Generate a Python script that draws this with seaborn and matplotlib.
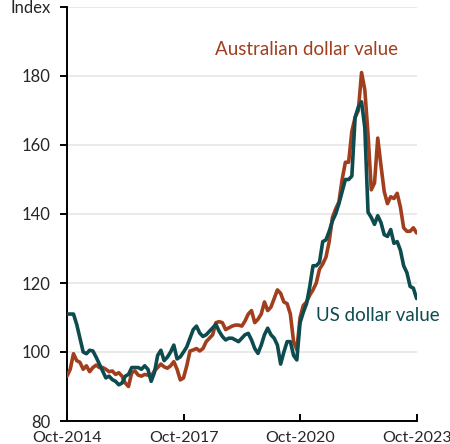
import numpy as np
import pandas as pd
import matplotlib
matplotlib.use("Agg")
import matplotlib.pyplot as plt
import seaborn as sns

# Monthly index values, Oct-2014 .. Oct-2023
aud_value = [93, 95, 99.5, 97.5, 97, 95, 96, 94.3, 95.5, 96.2, 95.5, 95.5, 95, 94.3, 94.5, 93.5,
             94, 93, 91, 90, 94, 94.5, 93.3, 93, 93.5, 93.3, 93, 94.5, 95.5, 96.5, 95.7, 95.3,
             96, 97.2, 95, 91.9, 92.5, 96, 100.3, 100.6, 101, 100.3, 101, 103, 104, 105, 108.5,
             108.8, 108.5, 106.5, 107, 107.5, 107.8, 107.8, 107.5, 109, 111, 112, 108.5, 109.5,
             111, 114.5, 112, 113, 115.5, 118, 117, 114.5, 114, 111, 103, 100.6, 110, 113.5,
             114.5, 116.5, 118, 120, 124, 125.5, 127.5, 132, 139, 141.5, 143.5, 150, 155, 155,
             164, 168, 170, 181, 176, 163, 147, 149, 162, 154, 146.5, 143, 145, 144.5, 146, 142,
             136, 135, 135, 136, 134.5]
usd_value = [111, 111, 111, 108, 104, 100, 99.5, 100.5, 100.3, 98.5, 96.5, 94.5, 92.5, 93, 92,
             91.5, 90.5, 91, 93, 93.5, 95.5, 95.5, 95.5, 95, 96, 95, 91.5, 94, 99, 100.5, 97.5,
             98.5, 100, 102, 98, 98.6, 100, 101.5, 104, 106.5, 107.5, 105.5, 104.5, 105, 106, 107,
             108, 106, 104.5, 103.5, 104, 104, 103.5, 103, 104, 105, 105.4, 103.5, 101, 99.6, 102,
             105, 106.9, 105, 104, 102, 96.5, 100, 103, 103, 99, 97.7, 108.5, 111.5, 114, 119, 125,
             125, 126, 132, 132.5, 135, 138, 140, 143, 146.5, 150, 150, 151, 168, 171, 172.5, 165,
             140.5, 139, 137, 139.5, 137.5, 134, 133.5, 135.5, 131.5, 132, 129.5, 125, 123, 119,
             118.5, 115.5]
month_index = list(range(len(aud_value)))
x_tick_pos = [0, 36, 72, 108]
x_tick_labels = ["Oct-2014", "Oct-2017", "Oct-2020", "Oct-2023"]
y_ticks = [80, 100, 120, 140, 160, 180, 200]
y_tick_labels = ["80", "100", "120", "140", "160", "180", "Index"]
series_labels = ["Australian dollar value", "US dollar value"]

AUD_C = "#A13E1E"
USD_C = "#0D4B4E"

sns.set_theme(style="white")
plt.rcParams["font.family"] = ["Lato", "DejaVu Sans"]

df = pd.DataFrame({"month": month_index * 2,
                   "value": aud_value + usd_value,
                   "series": [series_labels[0]] * len(aud_value) + [series_labels[1]] * len(usd_value)})

fig = plt.figure(figsize=(4.5, 4.44), dpi=100)
ax = fig.add_axes([67 / 450, 1 - 421 / 444, (416.6 - 67) / 450, (421 - 7) / 444])

sns.lineplot(data=df, x="month", y="value", hue="series",
             palette={series_labels[0]: AUD_C, series_labels[1]: USD_C},
             linewidth=2.6, legend=False, ax=ax, zorder=3)

ax.set_xlim(0, 108)
ax.set_ylim(80, 200)
ax.set_yticks(y_ticks)
ax.set_yticklabels(y_tick_labels)
ax.set_xticks(x_tick_pos)
ax.set_xticklabels(x_tick_labels)
ax.set_xlabel("")
ax.set_ylabel("")

for y in y_ticks[1:]:
    ax.axhline(y, color="#E6E6E6", linewidth=1.2, zorder=1)

for s in ["top", "right"]:
    ax.spines[s].set_visible(False)
for s in ["left", "bottom"]:
    ax.spines[s].set_color("black")
    ax.spines[s].set_linewidth(1.4)

ax.tick_params(axis="y", direction="out", length=5, width=1.4, color="black",
               labelsize=12, pad=7, left=True)
ax.tick_params(axis="x", direction="in", length=5, width=1.4, color="black",
               labelsize=11.5, pad=7, bottom=True)

ax.text(0.685, 0.884, series_labels[0], transform=ax.transAxes, color=AUD_C,
        fontsize=13.5, ha="center", va="baseline")
ax.text(0.888, 0.2415, series_labels[1], transform=ax.transAxes, color=USD_C,
        fontsize=13.5, ha="center", va="baseline", clip_on=False)

fig.savefig("out.png", dpi=100)
